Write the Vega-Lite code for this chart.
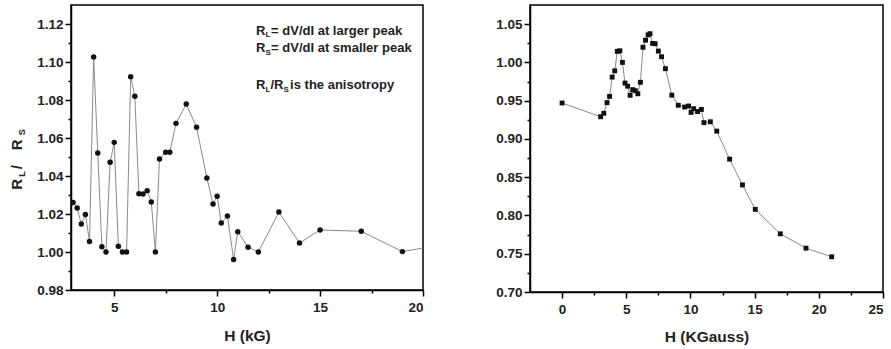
{
  "$schema": "https://vega.github.io/schema/vega-lite/v6.json",
  "background": "white",
  "padding": {"left": 9, "top": 4, "right": 5, "bottom": 5},
  "bounds": "flush",
  "spacing": 107,
  "config": {
    "font": "Liberation Sans",
    "view": {"stroke": "black", "strokeWidth": 1.5},
    "axis": {
      "labelFont": "Liberation Sans", "labelFontWeight": "bold", "labelFontSize": 13.5, "labelColor": "#222",
      "titleFont": "Liberation Sans", "titleFontWeight": "bold", "titleFontSize": 15.5, "titleColor": "#222",
      "grid": false, "domainColor": "black", "domainWidth": 1.5, "tickColor": "black", "tickWidth": 1.5
    }
  },
  "hconcat": [
    {
      "width": 352,
      "height": 285,
      "data": {"values": [
        {"H": 3.0, "R": 1.026}, {"H": 3.2, "R": 1.0232}, {"H": 3.4, "R": 1.0147}, {"H": 3.6, "R": 1.0197},
        {"H": 3.8, "R": 1.0055}, {"H": 4.0, "R": 1.1026}, {"H": 4.2, "R": 1.0521}, {"H": 4.4, "R": 1.0028},
        {"H": 4.6, "R": 1.0}, {"H": 4.8, "R": 1.0472}, {"H": 5.0, "R": 1.0577}, {"H": 5.2, "R": 1.003},
        {"H": 5.4, "R": 1.0}, {"H": 5.6, "R": 1.0}, {"H": 5.8, "R": 1.0923}, {"H": 6.0, "R": 1.082},
        {"H": 6.2, "R": 1.0307}, {"H": 6.4, "R": 1.0305}, {"H": 6.6, "R": 1.0323}, {"H": 6.8, "R": 1.0263},
        {"H": 7.0, "R": 1.0}, {"H": 7.2, "R": 1.049}, {"H": 7.5, "R": 1.0525}, {"H": 7.7, "R": 1.0525},
        {"H": 8.0, "R": 1.0677}, {"H": 8.5, "R": 1.0779}, {"H": 9.0, "R": 1.0656}, {"H": 9.5, "R": 1.039},
        {"H": 9.8, "R": 1.0253}, {"H": 10.0, "R": 1.0293}, {"H": 10.2, "R": 1.0153}, {"H": 10.5, "R": 1.019},
        {"H": 10.8, "R": 0.996}, {"H": 11.0, "R": 1.0107}, {"H": 11.5, "R": 1.0025}, {"H": 12.0, "R": 1.0},
        {"H": 13.0, "R": 1.021}, {"H": 14.0, "R": 1.0047}, {"H": 15.0, "R": 1.0116}, {"H": 17.0, "R": 1.0109},
        {"H": 19.0, "R": 1.0002}, {"H": 21.0, "R": 1.004}
      ]},
      "encoding": {
        "x": {"field": "H", "type": "quantitative",
          "scale": {"domain": [2.9, 20], "nice": false, "zero": false},
          "axis": {"title": "H (kG)", "values": [5, 7.5, 10, 12.5, 15, 17.5, 20],
            "labelExpr": "datum.value % 5 == 0 ? format(datum.value, 'd') : ''",
            "tickSize": {"condition": {"test": "datum.value % 5 != 0", "value": 3}, "value": 6},
            "labelPadding": 4, "titlePadding": 15}},
        "y": {"field": "R", "type": "quantitative",
          "scale": {"domain": [0.98, 1.13], "nice": false, "zero": false},
          "axis": {"title": null,
            "values": [0.98, 0.99, 1.0, 1.01, 1.02, 1.03, 1.04, 1.05, 1.06, 1.07, 1.08, 1.09, 1.1, 1.11, 1.12],
            "labelExpr": "round(datum.value * 100) % 2 == 0 ? format(datum.value, '.2f') : ''",
            "tickSize": {"condition": {"test": "round(datum.value * 100) % 2 != 0", "value": 3}, "value": 6},
            "labelPadding": 2}}
      },
      "layer": [
        {"mark": {"type": "line", "color": "#8a8a8a", "strokeWidth": 1, "interpolate": "linear", "clip": true}},
        {"mark": {"type": "point", "shape": "circle", "filled": true, "color": "#111", "opacity": 1, "size": 30, "clip": true}},
        {
          "data": {"values": [
            {"H": 11.893, "R": 1.11447, "t": "R"}, {"H": 12.621, "R": 1.11447, "t": "= dV/dI at larger peak"},
            {"H": 11.893, "R": 1.10511, "t": "R"}, {"H": 12.621, "R": 1.10511, "t": "= dV/dI at smaller peak"},
            {"H": 11.893, "R": 1.08589, "t": "R"}, {"H": 12.597, "R": 1.08589, "t": "/"},
            {"H": 12.767, "R": 1.08589, "t": "R"}, {"H": 13.544, "R": 1.08589, "t": "is the anisotropy"}
          ]},
          "mark": {"type": "text", "align": "left", "baseline": "alphabetic", "fontSize": 13, "fontWeight": "bold", "font": "Liberation Sans", "color": "#222"},
          "encoding": {"text": {"field": "t"}}
        },
        {
          "data": {"values": [
            {"H": 12.354, "R": 1.11316, "t": "L"}, {"H": 12.354, "R": 1.10353, "t": "S"},
            {"H": 12.354, "R": 1.08432, "t": "L"}, {"H": 13.228, "R": 1.08432, "t": "S"}
          ]},
          "mark": {"type": "text", "align": "left", "baseline": "alphabetic", "fontSize": 8, "fontWeight": "bold", "font": "Liberation Sans", "color": "#222"},
          "encoding": {"text": {"field": "t"}}
        },
        {
          "data": {"values": [
            {"H": 0.519, "R": 1.03274, "t": "R"}, {"H": 0.519, "R": 1.04353, "t": "/"}, {"H": 0.519, "R": 1.05353, "t": "R"}
          ]},
          "mark": {"type": "text", "align": "left", "baseline": "alphabetic", "angle": 270, "fontSize": 15, "fontWeight": "bold", "font": "Liberation Sans", "color": "#222"},
          "encoding": {"text": {"field": "t"}}
        },
        {
          "data": {"values": [
            {"H": 0.658, "R": 1.03958, "t": "L"}, {"H": 0.658, "R": 1.06142, "t": "S"}
          ]},
          "mark": {"type": "text", "align": "left", "baseline": "alphabetic", "angle": 270, "fontSize": 9, "fontWeight": "bold", "font": "Liberation Sans", "color": "#222"},
          "encoding": {"text": {"field": "t"}}
        }
      ]
    },
    {
      "width": 353,
      "height": 287,
      "data": {"values": [
        {"H": 0.0, "R": 0.9469}, {"H": 3.0, "R": 0.929}, {"H": 3.25, "R": 0.9335}, {"H": 3.5, "R": 0.9474},
        {"H": 3.7, "R": 0.9556}, {"H": 3.9, "R": 0.9808}, {"H": 4.1, "R": 0.989}, {"H": 4.3, "R": 1.0144},
        {"H": 4.5, "R": 1.0152}, {"H": 4.7, "R": 1.0}, {"H": 4.9, "R": 0.973}, {"H": 5.1, "R": 0.969},
        {"H": 5.3, "R": 0.957}, {"H": 5.5, "R": 0.9644}, {"H": 5.7, "R": 0.963}, {"H": 5.9, "R": 0.959},
        {"H": 6.1, "R": 0.974}, {"H": 6.3, "R": 1.0198}, {"H": 6.5, "R": 1.029}, {"H": 6.7, "R": 1.036},
        {"H": 6.85, "R": 1.0375}, {"H": 7.05, "R": 1.0248}, {"H": 7.25, "R": 1.0244}, {"H": 7.5, "R": 1.0148},
        {"H": 7.75, "R": 1.0074}, {"H": 8.05, "R": 0.9918}, {"H": 8.55, "R": 0.9572}, {"H": 9.05, "R": 0.944},
        {"H": 9.55, "R": 0.9417}, {"H": 9.85, "R": 0.943}, {"H": 10.05, "R": 0.9347}, {"H": 10.25, "R": 0.9395},
        {"H": 10.55, "R": 0.9358}, {"H": 10.85, "R": 0.9385}, {"H": 11.05, "R": 0.9213}, {"H": 11.55, "R": 0.9224},
        {"H": 12.05, "R": 0.9102}, {"H": 13.05, "R": 0.8736}, {"H": 14.05, "R": 0.8399}, {"H": 15.05, "R": 0.808},
        {"H": 17.0, "R": 0.776}, {"H": 19.0, "R": 0.7573}, {"H": 21.0, "R": 0.746}
      ]},
      "encoding": {
        "x": {"field": "H", "type": "quantitative",
          "scale": {"domain": [-2.5, 25], "nice": false, "zero": false},
          "axis": {"title": "H (KGauss)", "values": [0, 2.5, 5, 7.5, 10, 12.5, 15, 17.5, 20, 22.5, 25],
            "labelExpr": "datum.value % 5 == 0 ? format(datum.value, 'd') : ''",
            "tickSize": {"condition": {"test": "datum.value % 5 != 0", "value": 3}, "value": 6},
            "labelPadding": 4, "titlePadding": 14}},
        "y": {"field": "R", "type": "quantitative",
          "scale": {"domain": [0.7, 1.075], "nice": false, "zero": false},
          "axis": {"title": null,
            "values": [0.7, 0.725, 0.75, 0.775, 0.8, 0.825, 0.85, 0.875, 0.9, 0.925, 0.95, 0.975, 1.0, 1.025, 1.05],
            "labelExpr": "round(datum.value * 1000) % 50 == 0 ? format(datum.value, '.2f') : ''",
            "tickSize": {"condition": {"test": "round(datum.value * 1000) % 50 != 0", "value": 3}, "value": 6},
            "labelPadding": 2}}
      },
      "layer": [
        {"mark": {"type": "line", "color": "#8a8a8a", "strokeWidth": 1, "interpolate": "linear", "clip": true}},
        {"mark": {"type": "point", "shape": "square", "filled": true, "color": "#111", "opacity": 1, "size": 24, "clip": true}}
      ]
    }
  ]
}
